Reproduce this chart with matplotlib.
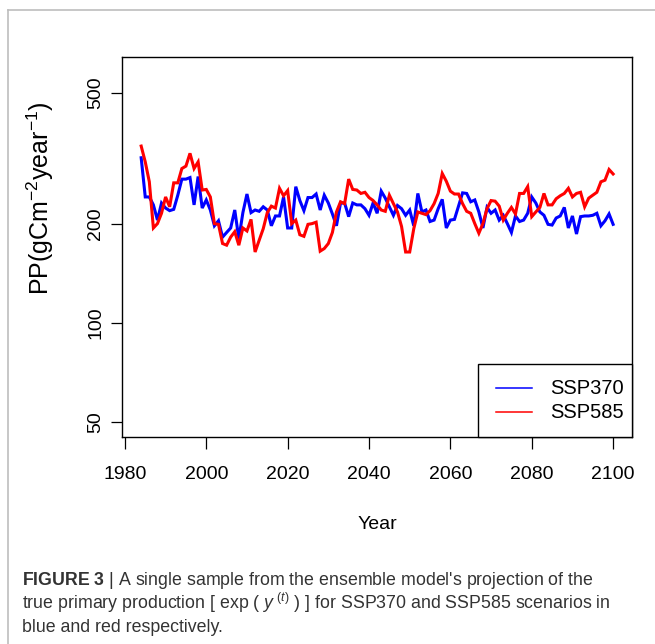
import matplotlib
matplotlib.use("Agg")
import matplotlib.pyplot as plt
from matplotlib.lines import Line2D
from matplotlib.patches import Rectangle
from matplotlib.ticker import FixedLocator, NullLocator, FixedFormatter

plt.rcParams['font.family'] = ['Liberation Sans', 'DejaVu Sans']
plt.rcParams['mathtext.fontset'] = 'custom'
plt.rcParams['mathtext.rm'] = 'Liberation Sans'
plt.rcParams['mathtext.it'] = 'Liberation Sans:italic'
plt.rcParams['mathtext.bf'] = 'Liberation Sans:bold'

years = list(range(1984, 2101))

ssp370 = [
    317, 241, 241, 228, 205, 231,                      # 1984-1989
    223, 219, 221, 244, 273, 273, 276, 228, 278, 223,  # 1990s
    236, 220, 197, 204, 182, 188, 194, 220, 180, 216,  # 2000s
    246, 216, 220, 218, 225, 220, 197, 211, 211, 241,  # 2010s
    194, 194, 259, 235, 219, 240, 240, 246, 220, 244,  # 2020s
    231, 214, 197, 231, 231, 210, 231, 228, 228, 222,  # 2030s
    212, 231, 215, 251, 239, 225, 212, 227, 222, 212,  # 2040s
    220, 197, 247, 217, 220, 203, 205, 222, 237, 194,  # 2050s
    205, 206, 226, 248, 247, 233, 236, 217, 194, 224,  # 2060s
    215, 220, 205, 212, 200, 188, 211, 203, 205, 215,  # 2070s
    241, 231, 217, 212, 199, 198, 208, 211, 224, 194,  # 2080s
    211, 186, 210, 211, 211, 212, 215, 197, 204, 214,  # 2090s
    199,                                               # 2100
]

ssp585 = [
    344, 308, 268, 194, 200, 215,                      # 1984-1989
    241, 225, 266, 266, 294, 299, 327, 294, 308, 253,  # 1990s
    254, 241, 200, 199, 174, 172, 182, 189, 172, 194,  # 2000s
    190, 206, 164, 178, 193, 216, 226, 223, 256, 243,  # 2010s
    252, 200, 205, 185, 183, 199, 200, 202, 165, 168,  # 2020s
    174, 188, 217, 233, 230, 273, 254, 253, 247, 249,  # 2030s
    240, 235, 228, 220, 218, 244, 230, 217, 196, 164,  # 2040s
    164, 193, 217, 215, 213, 219, 230, 247, 284, 269,  # 2050s
    251, 246, 246, 230, 218, 215, 200, 187, 200, 222,  # 2060s
    235, 234, 226, 205, 215, 224, 214, 247, 247, 259,  # 2070s
    210, 217, 224, 247, 228, 228, 238, 243, 247, 256,  # 2080s
    241, 247, 249, 225, 239, 244, 249, 268, 271, 292,  # 2090s
    283,                                               # 2100
]

series_labels = ["SSP370", "SSP585"]
series_colors = ["#0000FF", "#FF0000"]
y_ticks = [50, 100, 200, 500]
x_ticks = [1980, 2000, 2020, 2040, 2060, 2080, 2100]

W, H = 655, 644
fig = plt.figure(figsize=(W / 100, H / 100), dpi=100)
fig.patch.set_facecolor("white")

ax = fig.add_axes([122.3 / W, 1 - 436.6 / H, (632 - 122.3) / W, (436.6 - 57.3) / H])
ax.plot(years, ssp370, color=series_colors[0], lw=2.2, solid_joinstyle='miter')
ax.plot(years, ssp585, color=series_colors[1], lw=2.2, solid_joinstyle='miter')

ax.set_yscale("log")
ax.set_xlim(1979.36, 2104.64)
ax.set_ylim(45.1, 640)
ax.yaxis.set_major_locator(FixedLocator(y_ticks))
ax.yaxis.set_major_formatter(FixedFormatter([str(t) for t in y_ticks]))
ax.yaxis.set_minor_locator(NullLocator())
ax.set_xticks(x_ticks)
ax.set_xticklabels([str(t) for t in x_ticks])

for sp in ax.spines.values():
    sp.set_linewidth(1.0)
    sp.set_color("black")
ax.tick_params(axis='x', direction='out', length=8.5, width=0.9, labelsize=14, pad=13, colors='black')
ax.tick_params(axis='y', direction='out', length=8, width=0.9, labelsize=14, pad=5, colors='black')
for lab in ax.get_yticklabels():
    lab.set_rotation(90)
    lab.set_va('center')

ax.set_xlabel("Year", fontsize=14)
ax.xaxis.set_label_coords(0.5, -0.21)
ax.set_ylabel(r"PP(gCm$^{-2}$year$^{-1}$)", fontsize=18)
ax.yaxis.set_label_coords(-0.13, 0.63)

# legend box (bottom-right corner, sharing the axes edges)
ax.add_patch(Rectangle((0.698, 0.0), 0.302, 0.1906, transform=ax.transAxes,
                       facecolor='white', edgecolor='black', lw=1.0, zorder=5, clip_on=False))
for lab, col, yy in zip(series_labels, series_colors, [0.1273, 0.0641]):
    ax.add_line(Line2D([0.7332, 0.8039], [yy, yy], transform=ax.transAxes,
                       color=col, lw=1.1, zorder=6))
    ax.text(0.8392, yy, lab, transform=ax.transAxes, fontsize=14.5,
            ha='left', va='center', zorder=6)

# outer gray frame
fig.add_artist(Line2D([8 / W, 1], [1 - 10 / H, 1 - 10 / H], color="#bdbdbd", lw=1.2, transform=fig.transFigure))
fig.add_artist(Line2D([8 / W, 8 / W], [0, 1 - 10 / H], color="#bdbdbd", lw=1.2, transform=fig.transFigure))

cap_kw = dict(fontsize=12.8, color="#333333", ha='left', va='baseline')
fig.text(22 / W, 1 - 585 / H, r"$\mathbf{FIGURE\ 3}$ | A single sample from the ensemble model's projection of the", **cap_kw)
fig.text(22 / W, 1 - 609 / H, r"true primary production [ exp ( $y^{\ (t)}$ ) ] for SSP370 and SSP585 scenarios in", **cap_kw)
fig.text(22 / W, 1 - 632 / H, "blue and red respectively.", **cap_kw)

fig.savefig("out.png", dpi=100, facecolor="white")
